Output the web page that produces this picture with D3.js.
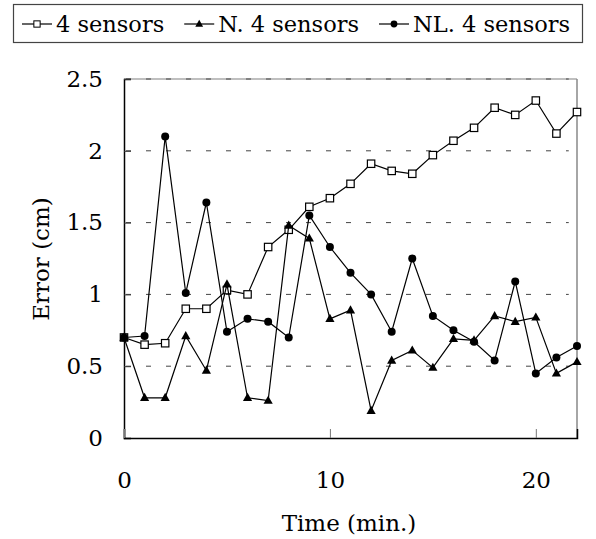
<!DOCTYPE html>
<html>
<head>
<meta charset="utf-8">
<title>Error vs time</title>
<script src="https://d3js.org/d3.v7.min.js"></script>
<style>
  body { margin: 0; background: #fff; }
  text { font-family: "DejaVu Serif", serif; fill: #000; }
</style>
</head>
<body>
<script>
// data
var times = d3.range(0, 23);
var seriesNames = ["4 sensors", "N. 4 sensors", "NL. 4 sensors"];
var plain4 = [0.70, 0.65, 0.66, 0.90, 0.90, 1.03, 1.00, 1.33, 1.45, 1.61, 1.67, 1.77,
              1.91, 1.86, 1.84, 1.97, 2.07, 2.16, 2.30, 2.25, 2.35, 2.12, 2.27];
var n4 = [0.70, 0.28, 0.28, 0.71, 0.47, 1.07, 0.28, 0.26, 1.48, 1.39, 0.83, 0.89,
          0.19, 0.54, 0.61, 0.49, 0.69, 0.68, 0.85, 0.81, 0.84, 0.45, 0.53];
var nl4 = [0.70, 0.71, 2.10, 1.01, 1.64, 0.74, 0.83, 0.81, 0.70, 1.55, 1.33, 1.15,
           1.00, 0.74, 1.25, 0.85, 0.75, 0.67, 0.54, 1.09, 0.45, 0.56, 0.64];
var yTicks = [0, 0.5, 1, 1.5, 2, 2.5];
var xTicks = [0, 10, 20];

var width = 596, height = 539;
var svg = d3.select("body").append("svg")
    .attr("width", width).attr("height", height);

var x = d3.scaleLinear().domain([0, 22]).range([124, 577]);
var y = d3.scaleLinear().domain([0, 2.5]).range([438, 79]);

// frame: light top/right, dark left/bottom
svg.append("line").attr("x1", x(0)).attr("x2", x(22)).attr("y1", y(2.5)).attr("y2", y(2.5))
   .attr("stroke", "#aaa").attr("stroke-width", 1.5);
svg.append("line").attr("x1", x(22)).attr("x2", x(22)).attr("y1", y(2.5)).attr("y2", y(0))
   .attr("stroke", "#888").attr("stroke-width", 1.5);

// dashed gridlines
svg.append("g").selectAll("line").data(yTicks.filter(function(d){ return d > 0; }))
  .enter().append("line")
  .attr("x1", x(0) + 2).attr("x2", x(21.6))
  .attr("y1", function(d){ return y(d); }).attr("y2", function(d){ return y(d); })
  .attr("stroke", "#444").attr("stroke-width", 1)
  .attr("stroke-dasharray", "5,15");

// y axis, ticks pointing inward
var yAxis = svg.append("g").attr("transform", "translate(" + x(0) + ",0)")
  .call(d3.axisRight(y).tickValues(yTicks).tickSize(7).tickFormat(function(d){ return d; }));
yAxis.select(".domain").attr("stroke", "#000").attr("stroke-width", 1.5);
yAxis.selectAll(".tick line").attr("stroke", "#333");
yAxis.selectAll(".tick text").attr("x", -21).attr("text-anchor", "end")
  .style("font-size", "23px").style("font-family", "DejaVu Serif");

// x axis, ticks pointing up
var xAxis = svg.append("g").attr("transform", "translate(0," + y(0) + ")")
  .call(d3.axisTop(x).tickValues(xTicks).tickSize(9).tickFormat(d3.format("d")));
xAxis.select(".domain").attr("stroke", "#000").attr("stroke-width", 1.5);
xAxis.selectAll(".tick line").attr("stroke", "#777");
xAxis.selectAll(".tick text").attr("y", 50).attr("dy", 0)
  .style("font-size", "23px").style("font-family", "DejaVu Serif");

// axis titles
svg.append("text").attr("x", 349).attr("y", 531).attr("text-anchor", "middle")
  .style("font-size", "23px").text("Time (min.)");
svg.append("text").attr("transform", "translate(49,259) rotate(-90)")
  .attr("text-anchor", "middle").style("font-size", "23px").text("Error (cm)");

var line = d3.line().x(function(d, i){ return x(times[i]); }).y(function(d){ return y(d); });

function drawMarker(sel, kind) {
  if (kind === "square") {
    sel.append("rect").attr("x", -3.7).attr("y", -3.7).attr("width", 7.4).attr("height", 7.4)
      .attr("fill", "#fff").attr("stroke", "#000").attr("stroke-width", 1.2);
  } else if (kind === "triangle") {
    sel.append("path").attr("d", "M0,-5L4.6,3.2L-4.6,3.2Z").attr("fill", "#000");
  } else {
    sel.append("circle").attr("r", 4).attr("fill", "#000");
  }
}

var series = [
  { name: seriesNames[0], values: plain4, kind: "square" },
  { name: seriesNames[1], values: n4, kind: "triangle" },
  { name: seriesNames[2], values: nl4, kind: "circle" }
];

series.forEach(function(s) {
  var g = svg.append("g");
  g.append("path").attr("d", line(s.values)).attr("fill", "none")
    .attr("stroke", "#000").attr("stroke-width", 1.2);
  g.selectAll("g").data(s.values).enter().append("g")
    .attr("transform", function(d, i){ return "translate(" + x(times[i]) + "," + y(d) + ")"; })
    .each(function(){ drawMarker(d3.select(this), s.kind); });
});

// legend
var leg = svg.append("g");
leg.append("rect").attr("x", 13.5).attr("y", 4.5).attr("width", 569).attr("height", 38)
  .attr("fill", "#fff").attr("stroke", "#444").attr("stroke-width", 1.2);
var lx = 22;
series.forEach(function(s) {
  var item = leg.append("g");
  item.append("line").attr("x1", lx).attr("x2", lx + 30).attr("y1", 24).attr("y2", 24)
    .attr("stroke", "#000").attr("stroke-width", 1.2);
  var m = item.append("g").attr("transform", "translate(" + (lx + 15) + ",24) scale(0.85)");
  drawMarker(m, s.kind);
  var t = item.append("text").attr("x", lx + 34).attr("y", 32)
    .style("font-size", "22.5px").text(s.name);
  lx += 34 + t.node().getComputedTextLength() + 20;
});
</script>
</body>
</html>
